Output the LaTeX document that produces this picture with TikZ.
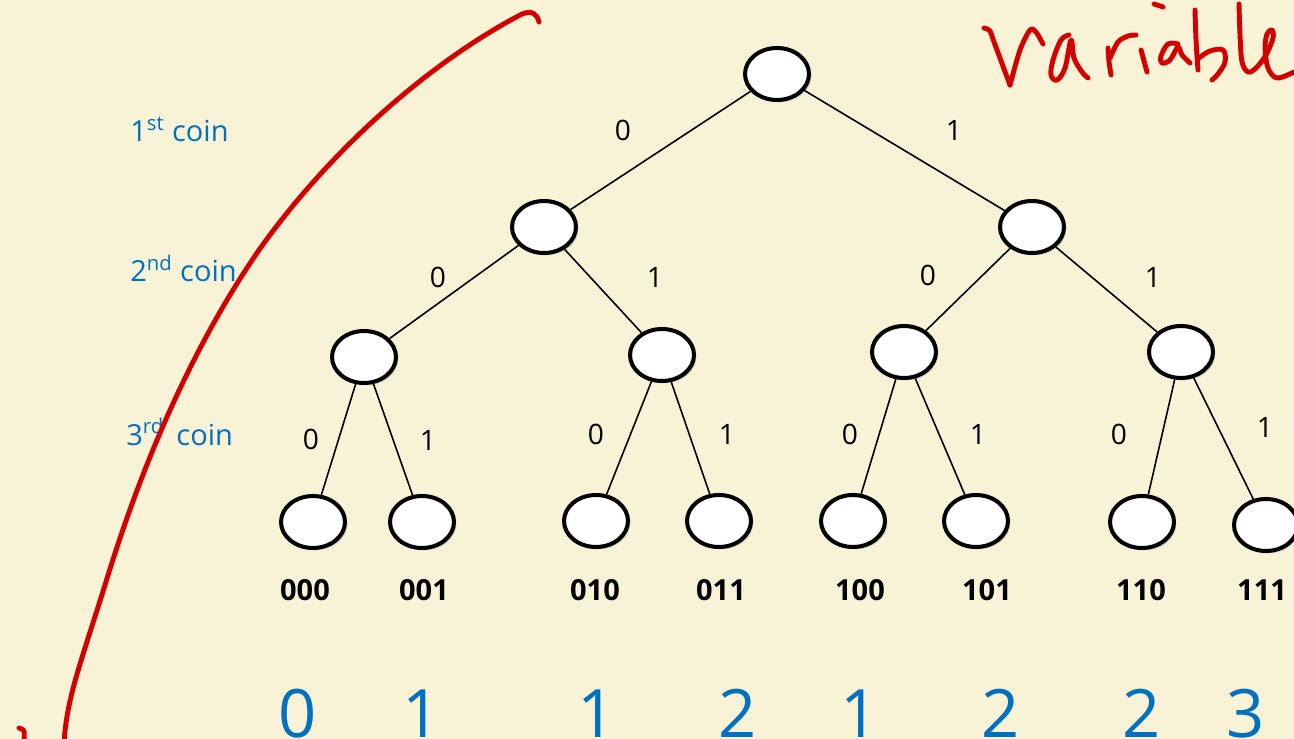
\documentclass[tikz,border=0pt]{standalone}
\usepackage{fontspec}
\setmainfont{Open Sans}
\usetikzlibrary{shapes.geometric,shadows}
\definecolor{paper}{HTML}{F8F2D6}
\definecolor{ink}{HTML}{0070C0}
\definecolor{pen}{HTML}{D40000}
\begin{document}
\begin{tikzpicture}[x=0.02cm,y=-0.02cm,
  coin/.style={ellipse, draw=black, line width=2.3pt, fill=white,
    minimum width=1.28cm, minimum height=1.04cm, inner sep=0pt,
    drop shadow={shadow xshift=1.3pt, shadow yshift=-1.3pt, opacity=0.3}},
  edge/.style={line width=0.9pt},
  bit/.style={font=\fontsize{16}{16}\selectfont, anchor=base, inner sep=0pt},
  level/.style={font=\fontsize{16.5}{18}\selectfont, text=ink, anchor=base west, inner sep=0pt},
  code/.style={font=\fontsize{16.5}{17}\selectfont\bfseries, anchor=base, inner sep=0pt},
  count/.style={font=\fontsize{38}{38}\selectfont, text=ink, anchor=base, inner sep=0pt},
  penstroke/.style={draw=pen, line width=2.8pt, line cap=round, line join=round}
]
% page
\fill[paper] (0,0) rectangle (1294,739);
\useasboundingbox (0,0) rectangle (1294,739);
\clip (0,0) rectangle (1294,739);

% tree nodes
\node[coin] (r)   at (777,74) {};
\node[coin] (a)   at (544,227) {};
\node[coin] (b)   at (1032,227) {};
\node[coin] (aa)  at (364,357) {};
\node[coin] (ab)  at (662,355) {};
\node[coin] (ba)  at (904,352) {};
\node[coin] (bb)  at (1181,352) {};
\node[coin] (l0)  at (313,522) {};
\node[coin] (l1)  at (422,522) {};
\node[coin] (l2)  at (596,521) {};
\node[coin] (l3)  at (719,521) {};
\node[coin] (l4)  at (853,521) {};
\node[coin] (l5)  at (976,521) {};
\node[coin] (l6)  at (1142,522) {};
\node[coin] (l7)  at (1266,525) {};

% branches
\draw[edge] (r) -- (a);   \draw[edge] (r) -- (b);
\draw[edge] (a) -- (aa);  \draw[edge] (a) -- (ab);
\draw[edge] (b) -- (ba);  \draw[edge] (b) -- (bb);
\draw[edge] (aa) -- (l0); \draw[edge] (aa) -- (l1);
\draw[edge] (ab) -- (l2); \draw[edge] (ab) -- (l3);
\draw[edge] (ba) -- (l4); \draw[edge] (ba) -- (l5);
\draw[edge] (bb) -- (l6); \draw[edge] (bb) -- (l7);

% branch labels
\node[bit] (e1) at (623,141) {0};  \node[bit] (e2) at (954,141) {1};
\node[bit] (e3) at (438,288) {0};  \node[bit] (e4) at (655,288) {1};
\node[bit] (e5) at (928,286) {0};  \node[bit] (e6) at (1153,288) {1};
\node[bit] (e7) at (311,450) {0};  \node[bit] (e8) at (428,451) {1};
\node[bit] (e9) at (596,444) {0};  \node[bit] (e10) at (727,444) {1};
\node[bit] (e11) at (850,444) {0}; \node[bit] (e12) at (978,444) {1};
\node[bit] (e13) at (1119,444) {0};\node[bit] (e14) at (1265,438) {1};

% coin levels
\node[level] (c1) at (130,142) {1\textsuperscript{st} coin};
\node[level] (c2) at (130,282) {2\textsuperscript{nd} coin};
\node[level] (c3) at (126,445) {3\textsuperscript{rd}\, coin};

% outcomes
\node[code] (o0) at (305,600) {000};
\node[code] (o1) at (424,600) {001};
\node[code] (o2) at (595,600) {010};
\node[code] (o3) at (721,600) {011};
\node[code] (o4) at (860,600) {100};
\node[code] (o5) at (987,600) {101};
\node[code] (o6) at (1141,600) {110};
\node[code] (o7) at (1262,600) {111};

% number of ones
\node[count] (n0) at (298,737) {0};
\node[count] (n1) at (422,737) {1};
\node[count] (n2) at (597,737) {1};
\node[count] (n3) at (738,737) {2};
\node[count] (n4) at (860,737) {1};
\node[count] (n5) at (1001,737) {2};
\node[count] (n6) at (1142,737) {2};
\node[count] (n7) at (1246,737) {3};

% hand-drawn annotations
\draw[penstroke] (539,22) .. controls (537,14) and (532,10) .. (522,14)
  .. controls (430,62) and (330,150) .. (259,250)
  .. controls (190,350) and (140,470) .. (105,585)
  .. controls (80,665) and (66,700) .. (64,745);
\draw[penstroke] plot[smooth, tension=0.5] coordinates {(19,728) (24,731) (24,740)};

% "variable"
\draw[penstroke] plot[smooth, tension=0.5] coordinates {
  (984,28) (990,31) (994,42) (1010,85)};
\draw[penstroke] plot[smooth, tension=0.5] coordinates {
  (1010,85) (1020,50) (1030,30) (1036,32) (1043,44)};
\draw[penstroke] plot[smooth, tension=0.6] coordinates {
  (1069,35) (1061,40) (1053,60) (1051,75) (1057,80) (1065,68) (1071,40) (1074,58) (1082,72) (1088,78)};
\draw[penstroke] plot[smooth, tension=0.5] coordinates {(1108,48) (1109,62) (1111,75)};
\draw[penstroke] plot[smooth, tension=0.5] coordinates {(1110,58) (1118,42) (1128,36) (1136,35)};
\draw[penstroke] (1141,50) -- (1147,72);
\draw[penstroke] (1154,4) -- (1163,7);
\draw[penstroke] plot[smooth, tension=0.6] coordinates {
  (1178,44) (1168,44) (1161,56) (1162,63) (1170,60) (1178,47) (1182,55) (1190,63)};
\draw[penstroke] plot[smooth, tension=0.5] coordinates {(1195,10) (1196,40) (1198,70)};
\draw[penstroke] plot[smooth, tension=0.6] coordinates {
  (1199,58) (1210,51) (1223,50) (1225,62) (1218,74) (1212,80)};
\draw[penstroke] plot[smooth, tension=0.55] coordinates {
  (1239,4) (1240,35) (1242,62) (1248,72) (1256,68) (1266,55) (1273,38)
  (1272,30) (1267,34) (1265,48) (1268,68) (1277,78) (1294,72)};
\end{tikzpicture}
\end{document}
